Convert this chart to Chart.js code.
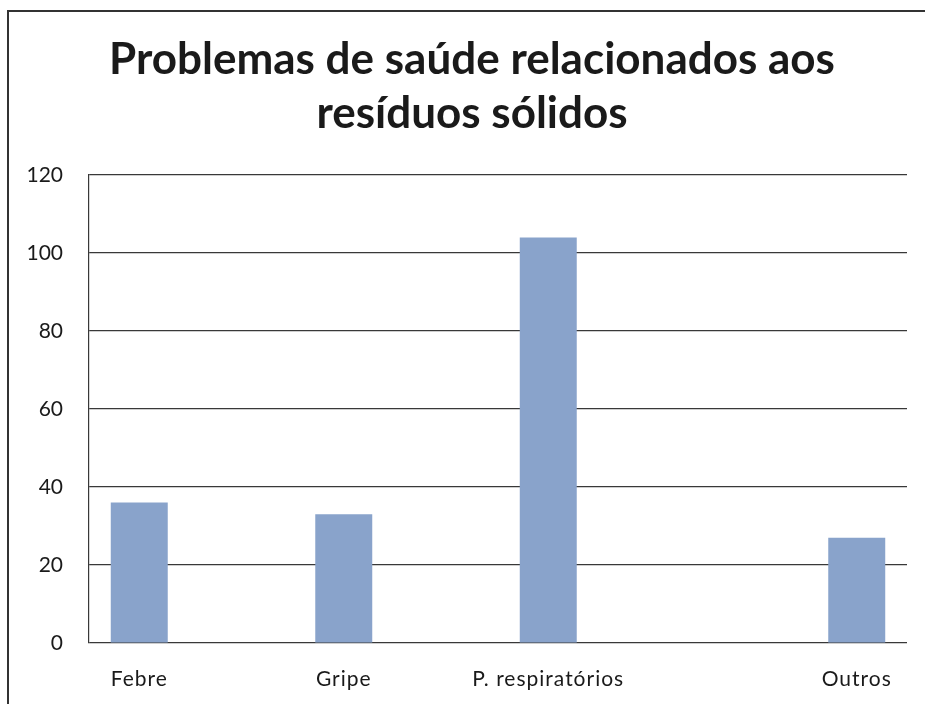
<!DOCTYPE html>
<html>
<head>
<meta charset="utf-8">
<script src="https://cdn.jsdelivr.net/npm/chart.js@4.4.0/dist/chart.umd.min.js"></script>
<style>
  html, body { margin: 0; padding: 0; background: #fff; overflow: hidden; }
  canvas { display: block; }
</style>
</head>
<body>
<canvas id="chart1" width="925" height="704"></canvas>
<script>
// dados do grafico
const categorias = ["Febre", "Gripe", "P. respiratórios", "Outros"];
const valoresPrincipais = [36, 33, 104, null];
const valoresOutros = [null, null, null, 27];
const ticksY = [0, 20, 40, 60, 80, 100, 120];
const titulo = ["Problemas de saúde relacionados aos", "resíduos sólidos"];

const corBarra = "rgb(137, 163, 203)";
const corLinha = "#383838";

// moldura (so as bordas de cima e da esquerda aparecem no recorte)
const moldura = {
  id: "moldura",
  beforeDraw(chart) {
    const ctx = chart.ctx;
    ctx.save();
    ctx.strokeStyle = "#333";
    ctx.lineWidth = 2;
    ctx.beginPath();
    ctx.moveTo(8, chart.height);
    ctx.lineTo(8, 11);
    ctx.lineTo(chart.width, 11);
    ctx.stroke();
    ctx.restore();
  }
};

// titulo em duas linhas, centrado um pouco a esquerda da area do grafico
const tituloPlugin = {
  id: "tituloPlugin",
  afterDraw(chart) {
    const ctx = chart.ctx;
    ctx.save();
    ctx.font = "bold 44px Lato";
    ctx.fillStyle = "#1a1a1a";
    ctx.textAlign = "center";
    ctx.textBaseline = "alphabetic";
    const cx = chart.chartArea.left + (chart.chartArea.right - chart.chartArea.left) / 2 - 26;
    ctx.fillText(titulo[0], cx, 74);
    ctx.fillText(titulo[1], cx, 128);
    ctx.restore();
  }
};

// desenha os nomes das categorias debaixo de cada barra
const rotulosBarras = {
  id: "rotulosBarras",
  afterDraw(chart) {
    const ctx = chart.ctx;
    ctx.save();
    ctx.font = "21px Lato";
    ctx.fillStyle = "#1a1a1a";
    ctx.textAlign = "center";
    ctx.textBaseline = "alphabetic";
    ctx.letterSpacing = "1px";
    categorias.forEach((nome, i) => {
      let x = null;
      chart.data.datasets.forEach((ds, d) => {
        if (ds.data[i] !== null) x = chart.getDatasetMeta(d).data[i].x;
      });
      ctx.fillText(nome, x, chart.chartArea.bottom + 43);
    });
    ctx.restore();
  }
};

new Chart(document.getElementById("chart1"), {
  type: "bar",
  data: {
    labels: categorias,
    datasets: [
      { label: "Casos", data: valoresPrincipais, backgroundColor: corBarra },
      { label: "Outros", data: valoresOutros, backgroundColor: corBarra }
    ]
  },
  options: {
    responsive: false,
    animation: false,
    categoryPercentage: 1.017,
    barPercentage: 0.548,
    layout: { padding: { left: 16, right: 18, top: 175, bottom: 61 } },
    plugins: {
      legend: { display: false },
      tooltip: { enabled: false },
      title: { display: false }
    },
    scales: {
      x: {
        display: false
      },
      y: {
        min: 0,
        max: 120,
        afterBuildTicks: (scale) => { scale.ticks = ticksY.map(v => ({ value: v })); },
        afterFit: (scale) => { scale.width = 73; },
        grid: { color: corLinha, lineWidth: 1.2, drawTicks: false },
        border: { display: true, color: corLinha, width: 1.2 },
        ticks: {
          padding: 26,
          color: "#1a1a1a",
          font: { family: "Lato", size: 21 }
        }
      }
    }
  },
  plugins: [moldura, tituloPlugin, rotulosBarras]
});
</script>
</body>
</html>
